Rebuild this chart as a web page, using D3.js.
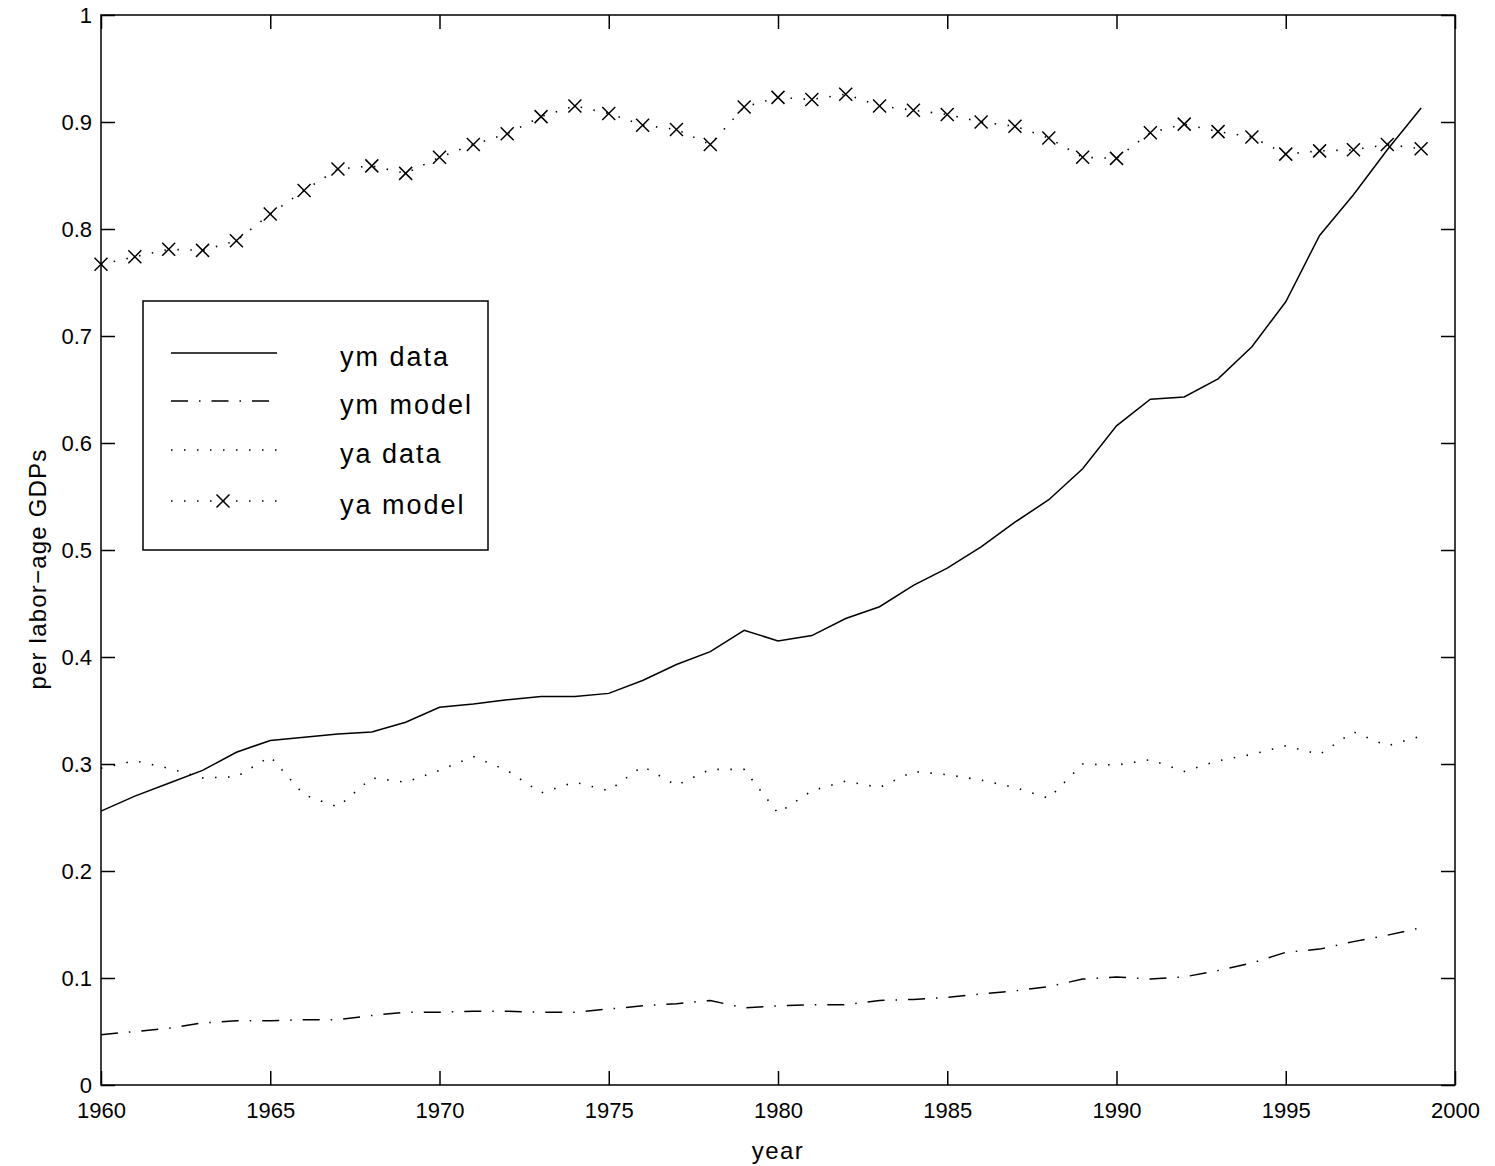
<!DOCTYPE html>
<html>
<head>
<meta charset="utf-8">
<script src="https://cdn.jsdelivr.net/npm/d3@7"></script>
<style>
  body { margin: 0; background: #fff; }
  svg { display: block; }
  text { font-family: "Liberation Sans", Arial, Helvetica, sans-serif; fill: #000; }
</style>
</head>
<body>
<div id="chart"></div>
<script>
// data, one value per year
var years = [1960,1961,1962,1963,1964,1965,1966,1967,1968,1969,
             1970,1971,1972,1973,1974,1975,1976,1977,1978,1979,
             1980,1981,1982,1983,1984,1985,1986,1987,1988,1989,
             1990,1991,1992,1993,1994,1995,1996,1997,1998,1999];

var ymData = [0.256,0.270,0.282,0.294,0.311,0.322,0.325,0.328,0.330,0.339,
              0.353,0.356,0.360,0.363,0.363,0.366,0.378,0.393,0.405,0.425,
              0.415,0.420,0.436,0.447,0.467,0.483,0.503,0.526,0.547,0.576,
              0.616,0.641,0.643,0.660,0.690,0.732,0.794,0.832,0.874,0.913];

var ymModel = [0.047,0.050,0.053,0.058,0.060,0.060,0.061,0.061,0.065,0.068,
               0.068,0.069,0.069,0.068,0.068,0.071,0.074,0.076,0.079,0.072,
               0.074,0.075,0.075,0.079,0.080,0.082,0.085,0.088,0.092,0.099,
               0.101,0.099,0.101,0.107,0.114,0.124,0.127,0.134,0.140,0.147];

var yaData = [0.296,0.303,0.296,0.287,0.288,0.307,0.271,0.260,0.287,0.283,
              0.294,0.307,0.294,0.273,0.283,0.275,0.298,0.280,0.295,0.295,
              0.254,0.275,0.284,0.278,0.293,0.290,0.285,0.278,0.268,0.300,
              0.299,0.304,0.293,0.303,0.309,0.317,0.309,0.330,0.317,0.326];

var yaModel = [0.767,0.774,0.781,0.780,0.789,0.814,0.836,0.856,0.859,0.852,
               0.867,0.879,0.889,0.905,0.915,0.908,0.897,0.893,0.879,0.914,
               0.923,0.921,0.926,0.915,0.911,0.907,0.900,0.896,0.885,0.867,
               0.866,0.890,0.898,0.891,0.886,0.870,0.873,0.874,0.879,0.875];

var xTicks = [1960,1965,1970,1975,1980,1985,1990,1995,2000];
var yTicks = [0,0.1,0.2,0.3,0.4,0.5,0.6,0.7,0.8,0.9,1];

var seriesNames = ['ym data', 'ym model', 'ya data', 'ya model'];

var W = 1495, H = 1166;
var margin = {left: 101, right: 40, top: 15, bottom: 81};
var width = W - margin.left - margin.right;
var height = H - margin.top - margin.bottom;

var svg = d3.select('#chart').append('svg')
  .attr('width', W)
  .attr('height', H);

var g = svg.append('g')
  .attr('transform', 'translate(' + margin.left + ',' + margin.top + ')');

var xScale = d3.scaleLinear().domain([1960, 2000]).range([0, width]);
var yScale = d3.scaleLinear().domain([0, 1]).range([height, 0]);

var tickLen = 14;
var fmtY = function(d) { return d === 0 || d === 1 ? String(d) : d3.format('.1f')(d); };

// bottom + left with labels, top + right with ticks only (matlab box)
g.append('g')
  .attr('class', 'axis')
  .attr('transform', 'translate(0,' + height + ')')
  .call(d3.axisBottom(xScale).tickValues(xTicks).tickFormat(d3.format('d'))
    .tickSizeInner(-tickLen).tickSizeOuter(0).tickPadding(17));

g.append('g')
  .attr('class', 'axis')
  .call(d3.axisTop(xScale).tickValues(xTicks).tickFormat('')
    .tickSizeInner(-tickLen).tickSizeOuter(0));

g.append('g')
  .attr('class', 'axis')
  .call(d3.axisLeft(yScale).tickValues(yTicks).tickFormat(fmtY)
    .tickSizeInner(-tickLen).tickSizeOuter(0).tickPadding(9));

g.append('g')
  .attr('class', 'axis')
  .attr('transform', 'translate(' + width + ',0)')
  .call(d3.axisRight(yScale).tickValues(yTicks).tickFormat('')
    .tickSizeInner(-tickLen).tickSizeOuter(0));

g.selectAll('.axis .domain').remove();
g.selectAll('.axis line').attr('stroke', '#000').attr('stroke-width', 1.5);
g.selectAll('.axis text')
  .style('font-family', '"Liberation Sans", Arial, sans-serif')
  .style('font-size', '22px')
  .attr('fill', '#000');

g.append('rect')
  .attr('x', 0).attr('y', 0)
  .attr('width', width).attr('height', height)
  .attr('fill', 'none')
  .attr('stroke', '#000')
  .attr('stroke-width', 1.5);

// axis titles
svg.append('text')
  .attr('x', margin.left + width / 2)
  .attr('y', 1159)
  .attr('text-anchor', 'middle')
  .attr('font-size', '24px')
  .attr('letter-spacing', '1.5px')
  .text('year');

svg.append('text')
  .attr('transform', 'translate(46,569) rotate(-90)')
  .attr('text-anchor', 'middle')
  .attr('font-size', '24px')
  .attr('letter-spacing', '1.2px')
  .text('per labor\u2212age GDPs');

// lines
var line = d3.line()
  .x(function(d) { return xScale(d[0]); })
  .y(function(d) { return yScale(d[1]); });

var styles = [
  {dash: null, w: 1.5},
  {dash: '17 11 1.5 11', w: 1.5},
  {dash: '1.5 11.5', w: 1.6},
  {dash: '1.5 11.5', w: 1.6}
];

[ymData, ymModel, yaData, yaModel].forEach(function(vals, i) {
  g.append('path')
    .datum(years.map(function(y, j) { return [y, vals[j]]; }))
    .attr('d', line)
    .attr('fill', 'none')
    .attr('stroke', '#000')
    .attr('stroke-width', styles[i].w)
    .attr('stroke-dasharray', styles[i].dash);
});

// x markers for ya model
var mk = 6.5;
function cross(sel) {
  sel.append('path')
    .attr('d', 'M' + (-mk) + ',' + (-mk) + 'L' + mk + ',' + mk + 'M' + (-mk) + ',' + mk + 'L' + mk + ',' + (-mk))
    .attr('stroke', '#000')
    .attr('stroke-width', 1.5)
    .attr('fill', 'none');
}

g.selectAll('.mark')
  .data(years.map(function(y, j) { return [y, yaModel[j]]; }))
  .enter()
  .append('g')
  .attr('class', 'mark')
  .attr('transform', function(d) { return 'translate(' + xScale(d[0]) + ',' + yScale(d[1]) + ')'; })
  .call(cross);

// legend
var legend = svg.append('g').attr('transform', 'translate(143,301)');
legend.append('rect')
  .attr('width', 345).attr('height', 249)
  .attr('fill', '#fff')
  .attr('stroke', '#000')
  .attr('stroke-width', 1.5);

var rowY = [52, 100, 149, 200];
seriesNames.forEach(function(name, i) {
  var row = legend.append('g').attr('transform', 'translate(0,' + rowY[i] + ')');
  row.append('line')
    .attr('x1', 28).attr('x2', 134)
    .attr('y1', 0).attr('y2', 0)
    .attr('stroke', '#000')
    .attr('stroke-width', styles[i].w)
    .attr('stroke-dasharray', styles[i].dash);
  if (i === 3) row.append('g').attr('transform', 'translate(80,0)').call(cross);
  row.append('text')
    .attr('x', 197)
    .attr('y', 13)
    .attr('font-size', '27px')
    .attr('letter-spacing', '2px')
    .text(name);
});
</script>
</body>
</html>
